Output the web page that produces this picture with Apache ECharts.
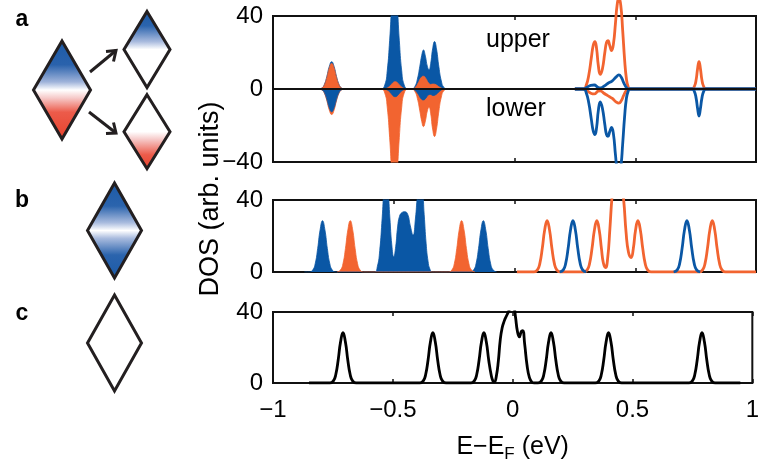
<!DOCTYPE html>
<html><head><meta charset="utf-8">
<script src="https://cdn.jsdelivr.net/npm/echarts@6/dist/echarts.min.js"></script>
<style>html,body{margin:0;padding:0;background:#fff}#c{width:762px;height:472px}</style>
</head><body><div id="c"></div>
<script>
// ---------- tick labels ----------
const xTickValues = [-1, -0.5, 0, 0.5, 1];
const xTickLabels = ['\u22121', '\u22120.5', '0', '0.5', '1'];
const yTickValuesA = [-40, 0, 40];
const yTickLabelsA = ['\u221240', '0', '40'];
const yTickValuesBC = [0, 40];
const yTickLabelsBC = ['0', '40'];

// ---------- panel a : occupied (filled) ----------
const aUpBlueFill = [[-0.86,0],[-0.812,0],[-0.797,0.6],[-0.787,2.6],[-0.777,6.9],[-0.767,12.3],[-0.757,15],[-0.747,12.3],[-0.737,6.9],[-0.727,2.6],[-0.717,0.6],[-0.702,0],
 [-0.552,0],[-0.537,2.3],[-0.527,9.9],[-0.517,26.7],[-0.507,47.6],[-0.497,58],[-0.487,47.6],[-0.477,26.7],[-0.467,9.9],[-0.457,2.3],[-0.442,0],
 [-0.425,0],[-0.412,1.5],[-0.402,5.5],[-0.392,12.5],[-0.384,18.5],[-0.377,21.4],[-0.369,18],[-0.361,12.5],[-0.354,10.5],[-0.347,14],[-0.339,22],[-0.331,26],[-0.323,22],[-0.313,12],[-0.303,4.4],[-0.293,1],[-0.278,0],[0,0]];
const aLowOrangeFill = [[-0.86,0],[-0.812,0],[-0.797,-0.6],[-0.787,-2.4],[-0.777,-6.4],[-0.767,-11.5],[-0.757,-14],[-0.747,-11.5],[-0.737,-6.4],[-0.727,-2.4],[-0.717,-0.6],[-0.702,0],
 [-0.552,0],[-0.537,-2.3],[-0.527,-9.9],[-0.517,-26.7],[-0.507,-47.6],[-0.497,-58],[-0.487,-47.6],[-0.477,-26.7],[-0.467,-9.9],[-0.457,-2.3],[-0.442,0],
 [-0.425,0],[-0.412,-1.5],[-0.402,-5.3],[-0.392,-12],[-0.384,-17.8],[-0.377,-20.6],[-0.369,-17.5],[-0.361,-12],[-0.354,-10],[-0.347,-13.5],[-0.339,-22],[-0.331,-26],[-0.323,-22],[-0.313,-12],[-0.303,-4.4],[-0.293,-1],[-0.278,0],[0,0]];
const aUpOrangeFill = [[-0.86,0],[-0.812,0],[-0.797,0.6],[-0.787,2.4],[-0.777,6.4],[-0.767,11.5],[-0.757,14],[-0.747,11.5],[-0.737,6.4],[-0.727,2.4],[-0.717,0.6],[-0.702,0],
 [-0.545,0],[-0.525,0.7],[-0.512,2.2],[-0.502,3.6],[-0.494,4],[-0.486,3.6],[-0.476,2.2],[-0.463,0.7],[-0.445,0],
 [-0.425,0],[-0.41,1],[-0.398,3.5],[-0.387,6.2],[-0.377,7],[-0.367,5.8],[-0.357,3.5],[-0.347,2.5],[-0.337,2.7],[-0.325,2.3],[-0.31,1],[-0.29,0],[0,0]];
const aLowBlueFill = [[-0.86,0],[-0.812,0],[-0.797,-0.5],[-0.787,-2.1],[-0.777,-5.8],[-0.767,-10.3],[-0.757,-12.5],[-0.747,-10.3],[-0.737,-5.8],[-0.727,-2.1],[-0.717,-0.5],[-0.702,0],
 [-0.545,0],[-0.525,-0.7],[-0.512,-2.3],[-0.502,-3.8],[-0.494,-4.2],[-0.486,-3.8],[-0.476,-2.3],[-0.463,-0.7],[-0.445,0],
 [-0.425,0],[-0.41,-1],[-0.398,-3],[-0.387,-5.3],[-0.377,-6],[-0.367,-5],[-0.357,-3.3],[-0.347,-3],[-0.337,-3.6],[-0.325,-3],[-0.31,-1.2],[-0.29,0],[0,0]];

// ---------- panel a : unoccupied (lines) ----------
const aUpOrangeLine = [[0.25,0],[0.286,0],[0.297,2],[0.308,8],[0.318,17],[0.326,24],[0.333,26],[0.34,22],[0.347,13],[0.355,8],[0.364,11],[0.374,20],[0.381,25.5],[0.387,26.5],[0.394,24],[0.402,21],[0.41,25],[0.418,36],[0.425,46],[0.432,50],[0.44,46],[0.448,32],[0.456,16],[0.463,6],[0.47,1.5],[0.478,0],
 [0.735,0],[0.745,1.5],[0.752,5],[0.758,11],[0.764,15],[0.77,11],[0.776,5],[0.783,1.5],[0.793,0],[1,0]];
const aLowOrangeLine = [[0.286,0],[0.3,-1],[0.316,-2.3],[0.33,-2.7],[0.345,-1.3],[0.355,-1],[0.37,-2.3],[0.386,-3.6],[0.405,-5.2],[0.42,-7],[0.432,-7.7],[0.442,-6.5],[0.452,-3.5],[0.462,-1],[0.472,0]];
const aLowBlueLine = [[0.25,0],[0.286,0],[0.297,-2],[0.308,-8],[0.318,-16.5],[0.326,-23],[0.333,-25],[0.34,-21],[0.347,-12],[0.355,-7],[0.364,-10.5],[0.374,-19.5],[0.381,-25],[0.387,-26],[0.394,-23.5],[0.402,-21],[0.41,-25],[0.418,-36],[0.425,-44],[0.432,-47],[0.44,-43],[0.448,-30],[0.456,-15],[0.463,-5.5],[0.47,-1.5],[0.478,0],
 [0.735,0],[0.745,-1.4],[0.752,-5],[0.758,-10.5],[0.764,-14.8],[0.77,-10.5],[0.776,-5],[0.783,-1.4],[0.793,0],[1,0]];
const aUpBlueLine = [[0.25,0],[0.286,0],[0.3,1],[0.316,2],[0.33,2.2],[0.345,1],[0.355,0.6],[0.37,1.5],[0.386,3],[0.405,4.5],[0.42,6.5],[0.432,7.7],[0.442,6.5],[0.452,3.5],[0.462,1],[0.472,0],[1,0]];

// ---------- panel b ----------
const bBlueFill = [[-0.87,0],[-0.85,0],[-0.835,1.2],[-0.825,4.8],[-0.815,13.1],[-0.805,23.4],[-0.795,28.5],[-0.785,23.4],[-0.775,13.1],[-0.765,4.8],[-0.755,1.2],[-0.74,0],
 [-0.58,0],[-0.568,3],[-0.558,12],[-0.548,30],[-0.54,46],[-0.532,52],[-0.524,46],[-0.516,30],[-0.508,15],[-0.5,8.5],[-0.492,14],[-0.484,25],[-0.476,31],[-0.466,33],[-0.454,33.5],[-0.442,32],[-0.432,26],[-0.42,20.5],[-0.41,30],[-0.402,42],[-0.392,50],[-0.382,46],[-0.374,32],[-0.366,16],[-0.358,6],[-0.35,1.5],[-0.34,0],
 [-0.184,0],[-0.169,1.2],[-0.159,4.8],[-0.149,13.1],[-0.139,23.4],[-0.129,28.5],[-0.119,23.4],[-0.109,13.1],[-0.099,4.8],[-0.089,1.2],[-0.074,0]];
const bOrangeFill = [[-0.735,0],[-0.72,1.2],[-0.71,4.8],[-0.7,13.1],[-0.69,23.4],[-0.68,28.5],[-0.67,23.4],[-0.66,13.1],[-0.65,4.8],[-0.64,1.2],[-0.625,0],
 [-0.274,0],[-0.259,1.2],[-0.249,4.8],[-0.239,13.1],[-0.229,23.4],[-0.219,28.5],[-0.209,23.4],[-0.199,13.1],[-0.189,4.8],[-0.179,1.2],[-0.164,0]];
const bOrangeLine = [[0.01,0],[0.08,0],[0.095,1.2],[0.105,4.8],[0.115,13.1],[0.125,23.4],[0.135,28.5],[0.145,23.4],[0.155,13.1],[0.165,4.8],[0.175,1.2],[0.19,0],
 [0.286,0],[0.301,1.2],[0.311,4.8],[0.321,13.1],[0.331,23.4],[0.341,28.5],[0.351,23],[0.36,13],[0.368,5],[0.377,2.5],[0.386,8],[0.395,24],[0.404,42],[0.415,55],[0.428,58],[0.44,52],[0.452,40],[0.462,22],[0.472,11],[0.483,8],[0.492,13],[0.501,23],[0.511,28.5],[0.521,23.4],[0.531,13.1],[0.541,4.8],[0.551,1.2],[0.566,0],
 [0.764,0],[0.779,1.2],[0.789,4.8],[0.799,13.1],[0.809,23.4],[0.819,28.5],[0.829,23.4],[0.839,13.1],[0.849,4.8],[0.859,1.2],[0.874,0],[1,0]];
const bBlueLine = [[0.187,0],[0.202,1.2],[0.212,4.8],[0.222,13.1],[0.232,23.4],[0.242,28.5],[0.252,23.4],[0.262,13.1],[0.272,4.8],[0.282,1.2],[0.297,0],[0.3,null],[0.655,null],
 [0.659,0],[0.674,1.2],[0.684,4.8],[0.694,13.1],[0.704,23.4],[0.714,28.5],[0.724,23.4],[0.734,13.1],[0.744,4.8],[0.754,1.2],[0.769,0]];

// ---------- panel c ----------
const cBlackLine = [[-0.85,0],[-0.763,0],[-0.748,1.2],[-0.738,4.8],[-0.728,13],[-0.718,23.2],[-0.708,28.3],[-0.698,23.2],[-0.688,13],[-0.678,4.8],[-0.668,1.2],[-0.653,0],
 [-0.388,0],[-0.373,1.2],[-0.363,4.8],[-0.353,13],[-0.343,23.2],[-0.333,28.3],[-0.323,23.2],[-0.313,13],[-0.303,4.8],[-0.293,1.2],[-0.278,0],
 [-0.175,0],[-0.16,1.2],[-0.15,4.8],[-0.14,13],[-0.13,23.2],[-0.12,28.3],[-0.11,23.2],[-0.1,13],[-0.09,4.8],[-0.082,1],[-0.076,0.6],
 [-0.068,4],[-0.06,12],[-0.052,24],[-0.044,31],[-0.035,35],[-0.025,38],[-0.015,41],[-0.005,45],[0.005,43],[0.012,37],[0.02,29],[0.028,26],[0.036,29],[0.042,29.5],[0.05,22],[0.06,10],[0.07,3],[0.08,0.5],[0.09,0],
 [0.105,0],[0.12,1.2],[0.13,4.8],[0.14,13],[0.15,23.2],[0.16,28.3],[0.17,23.2],[0.18,13],[0.19,4.8],[0.2,1.2],[0.215,0],
 [0.345,0],[0.36,1.2],[0.37,4.8],[0.38,13],[0.39,23.2],[0.4,28.3],[0.41,23.2],[0.42,13],[0.43,4.8],[0.44,1.2],[0.455,0],
 [0.735,0],[0.75,1.2],[0.76,4.8],[0.77,13],[0.78,23.2],[0.79,28.3],[0.8,23.2],[0.81,13],[0.82,4.8],[0.83,1.2],[0.845,0],[0.95,0]];

// ---------- styling ----------
const BLUE = '#0a57a5', ORANGE = '#f26430', BLACK = '#111';
const FONT = '"Liberation Sans", Arial, Helvetica, sans-serif';
const GL = 273, GW = 483;
const grids = [
  {left: GL, top: 16, width: GW, height: 146},
  {left: GL, top: 200, width: GW, height: 72},
  {left: GL, top: 312, width: GW, height: 71}
].map(g => Object.assign(g, {show: true, borderColor: BLACK, borderWidth: 2, backgroundColor: 'transparent'}));

function lookup(vals, labs) { return v => { const i = vals.findIndex(t => Math.abs(t - v) < 1e-9); return i >= 0 ? labs[i] : ''; }; }

const xAxes = [];
for (let i = 0; i < 3; i++) {
  xAxes.push({
    type: 'value', gridIndex: i, min: -1, max: 1, interval: 0.5, position: 'bottom',
    axisLine: {show: false, onZero: false}, splitLine: {show: false},
    axisTick: {show: true, inside: true, length: 4, lineStyle: {color: BLACK, width: 1.5}},
    axisLabel: {show: i === 2, fontFamily: FONT, fontSize: 24, color: '#000', margin: 15, formatter: lookup(xTickValues, xTickLabels)},
    name: i === 2 ? 'E\u2212E{sub|F} (eV)' : '', nameLocation: 'middle', nameGap: 48,
    nameTextStyle: {fontFamily: FONT, fontSize: 25, color: '#000',
      rich: {sub: {fontFamily: FONT, fontSize: 17, color: '#000', verticalAlign: 'bottom', padding: [15, 0, 0, 0]}}}
  });
}
for (let i = 0; i < 3; i++) {
  xAxes.push({
    type: 'value', gridIndex: i, min: -1, max: 1, interval: 0.5, position: 'top',
    axisLine: {show: false, onZero: false}, splitLine: {show: false}, axisLabel: {show: false},
    axisTick: {show: true, inside: true, length: 4, lineStyle: {color: BLACK, width: 1.5}}
  });
}
const yAxes = [
  {gridIndex: 0, min: -40, max: 40, interval: 40, vals: yTickValuesA, labs: yTickLabelsA},
  {gridIndex: 1, min: 0, max: 40, interval: 40, vals: yTickValuesBC, labs: yTickLabelsBC},
  {gridIndex: 2, min: 0, max: 40, interval: 40, vals: yTickValuesBC, labs: yTickLabelsBC}
].map(a => ({
  type: 'value', gridIndex: a.gridIndex, min: a.min, max: a.max, interval: a.interval,
  axisLine: {show: false}, axisTick: {show: false}, splitLine: {show: false},
  axisLabel: {fontFamily: FONT, fontSize: 24, color: '#000', margin: 10, formatter: lookup(a.vals, a.labs)}
}));

function fill(data, color, g, extra) {
  return Object.assign({type: 'line', data, xAxisIndex: g, yAxisIndex: g, showSymbol: false, symbol: 'none',
    smooth: 0.5, lineStyle: {width: 0.8, color}, areaStyle: {color, opacity: 1}, itemStyle: {color}, silent: true, animation: false}, extra || {});
}
function line(data, color, g, extra) {
  return Object.assign({type: 'line', data, xAxisIndex: g, yAxisIndex: g, showSymbol: false, symbol: 'none',
    smooth: 0.5, lineStyle: {width: 2.8, color}, itemStyle: {color}, silent: true, animation: false}, extra || {});
}

const series = [
  fill(aUpBlueFill, BLUE, 0),
  fill(aLowOrangeFill, ORANGE, 0),
  fill(aUpOrangeFill, ORANGE, 0),
  fill(aLowBlueFill, BLUE, 0, {markLine: {silent: true, symbol: 'none', label: {show: false}, animation: false,
      lineStyle: {color: BLACK, width: 2, type: 'solid'}, data: [{yAxis: 0}]}}),
  line(aUpOrangeLine, ORANGE, 0, {clip: false}),
  line(aLowOrangeLine, ORANGE, 0),
  line(aLowBlueLine, BLUE, 0),
  line(aUpBlueLine, BLUE, 0),
  fill(bBlueFill, BLUE, 1),
  fill(bOrangeFill, ORANGE, 1),
  line(bOrangeLine, ORANGE, 1),
  line(bBlueLine, BLUE, 1),
  line(cBlackLine, '#000', 2)
];

// ---------- left illustrations ----------
const STROKE = '#231f20';
function diamond(cx, cy, hw, hh, stops) {
  return {type: 'polygon', shape: {points: [[cx, cy - hh], [cx + hw, cy], [cx, cy + hh], [cx - hw, cy]]},
    style: {fill: stops ? new echarts.graphic.LinearGradient(0, 0, 0, 1, stops) : '#fff', stroke: STROKE, lineWidth: 3, lineJoin: 'miter'}, z: 10};
}
const gradRedBlue = [{offset: 0, color: '#1b5aa7'}, {offset: 0.25, color: '#2a62ac'}, {offset: 0.42, color: '#9fb3da'}, {offset: 0.5, color: '#ffffff'},
  {offset: 0.58, color: '#f6c9c8'}, {offset: 0.72, color: '#ec5b4a'}, {offset: 1, color: '#e8412b'}];
const gradBlueTop = [{offset: 0, color: '#1b5aa7'}, {offset: 0.2, color: '#2b64ad'}, {offset: 0.4, color: '#a9bbde'}, {offset: 0.5, color: '#ffffff'}, {offset: 1, color: '#ffffff'}];
const gradRedBot = [{offset: 0, color: '#ffffff'}, {offset: 0.5, color: '#ffffff'}, {offset: 0.6, color: '#f6c9c8'}, {offset: 0.8, color: '#ec5b4a'}, {offset: 1, color: '#e8412b'}];
const gradBlueBoth = [{offset: 0, color: '#1b5aa7'}, {offset: 0.25, color: '#2b64ad'}, {offset: 0.42, color: '#a9bbde'}, {offset: 0.5, color: '#ffffff'},
  {offset: 0.58, color: '#a9bbde'}, {offset: 0.75, color: '#2b64ad'}, {offset: 1, color: '#1b5aa7'}];
function arrow(x1, y1, x2, y2, w1, w2) {
  return [
    {type: 'line', shape: {x1, y1, x2, y2}, style: {stroke: STROKE, lineWidth: 3}, z: 10},
    {type: 'polyline', shape: {points: [w1, [x2, y2], w2]}, style: {stroke: STROKE, lineWidth: 3, fill: null, lineJoin: 'miter'}, z: 10}
  ];
}
const panelLetter = (t, x, y) => ({type: 'text', x, y, style: {text: t, font: 'bold 23px ' + FONT, fill: '#000', align: 'center', verticalAlign: 'middle'}, z: 10});
const graphic = [
  panelLetter('a', 22, 20), panelLetter('b', 22, 201), panelLetter('c', 22, 314),
  diamond(62, 90, 28.5, 49, gradRedBlue),
  diamond(147, 49.5, 23, 38, gradBlueTop),
  diamond(147, 131.7, 23, 37, gradRedBot),
  ...arrow(90, 72, 116, 50.5, [106, 51.5], [113.5, 61.5]),
  ...arrow(89, 112, 116, 133, [113.5, 122.5], [106, 133.5]),
  diamond(114.5, 230.5, 27, 47.5, gradBlueBoth),
  diamond(114.5, 343, 27, 48, null),
  {type: 'text', x: 211, y: 199, rotation: Math.PI / 2, style: {text: 'DOS (arb. units)', font: '27px ' + FONT, fill: '#000', align: 'center', verticalAlign: 'middle'}},
  {type: 'text', x: 486, y: 40, style: {text: 'upper', font: '25px ' + FONT, fill: '#000', align: 'left', verticalAlign: 'middle'}},
  {type: 'text', x: 486, y: 109, style: {text: 'lower', font: '25px ' + FONT, fill: '#000', align: 'left', verticalAlign: 'middle'}}
];

const chart = echarts.init(document.getElementById('c'), null, {renderer: 'canvas'});
chart.setOption({animation: false, grid: grids, xAxis: xAxes, yAxis: yAxes, series, graphic});
</script></body></html>
